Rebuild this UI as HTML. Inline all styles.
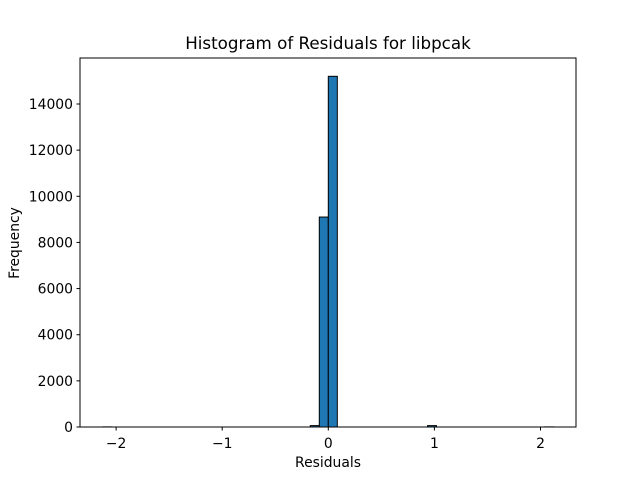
<!DOCTYPE html>
<html><head><meta charset="utf-8"><style>
body{margin:0;background:#fff;font-family:"DejaVu Sans","Liberation Sans",sans-serif;}
</style></head><body>
<svg width="640" height="480" xmlns="http://www.w3.org/2000/svg">
<rect width="640" height="480" fill="#fff"/>
<g id="bars"></g>
<rect x="80" y="58" width="496" height="369" fill="none" stroke="#000" stroke-width="1"/>
<g id="xt"></g>
<g id="yt"></g>
<text x="328" y="49" text-anchor="middle" font-size="16.7">Histogram of Residuals for libpcak</text>
<text x="328" y="467" text-anchor="middle" font-size="13.9">Residuals</text>
<text transform="translate(19,243) rotate(-90)" text-anchor="middle" font-size="13.9">Frequency</text>
</svg>
<script>
const binStart = -2.125;
const binWidth = 0.085;
const counts = [5,0,0,0,0,0,0,0,0,0,0,0,0,0,0,0,0,0,0,0,0,0,0,60,9100,15200,0,0,0,0,0,0,0,0,0,0,60,0,0,0,0,0,0,0,0,0,0,0,0,5];
const xTicks = [-2,-1,0,1,2];
const yTicks = [0,2000,4000,6000,8000,10000,12000,14000];
const NS="http://www.w3.org/2000/svg";
const xs=v=>328.3+v*106.1;
const ys=v=>427-v*(323/14000);
const bars=document.getElementById('bars');
counts.forEach((c,i)=>{
  const x0=xs(binStart+i*binWidth), x1=xs(binStart+(i+1)*binWidth);
  const r=document.createElementNS(NS,'rect');
  r.setAttribute('x',x0);r.setAttribute('y',ys(c));
  r.setAttribute('width',x1-x0);r.setAttribute('height',Math.max(0,427-ys(c)));
  r.setAttribute('fill','#1f77b4');r.setAttribute('stroke','#000');r.setAttribute('stroke-width','1');
  
  
  bars.appendChild(r);
});
const xt=document.getElementById('xt');
xTicks.forEach(t=>{
  const x=xs(t);
  const l=document.createElementNS(NS,'line');
  l.setAttribute('x1',x);l.setAttribute('x2',x);l.setAttribute('y1',427);l.setAttribute('y2',430.5);l.setAttribute('stroke','#000');
  
  
  xt.appendChild(l);
  const tx=document.createElementNS(NS,'text');
  tx.setAttribute('x',x);tx.setAttribute('y',448);tx.setAttribute('text-anchor','middle');tx.setAttribute('font-size','13.9');
  tx.textContent=t<0?'\u2212'+(-t):String(t);
  
  
  xt.appendChild(tx);
});
const yt=document.getElementById('yt');
yTicks.forEach(t=>{
  const y=ys(t);
  const l=document.createElementNS(NS,'line');
  l.setAttribute('x1',76.5);l.setAttribute('x2',80);l.setAttribute('y1',y);l.setAttribute('y2',y);l.setAttribute('stroke','#000');
  
  
  yt.appendChild(l);
  const tx=document.createElementNS(NS,'text');
  tx.setAttribute('x',73);tx.setAttribute('y',y+5);tx.setAttribute('text-anchor','end');tx.setAttribute('font-size','13.9');
  tx.textContent=String(t);
  
  
  yt.appendChild(tx);
});
</script>
</body></html>
